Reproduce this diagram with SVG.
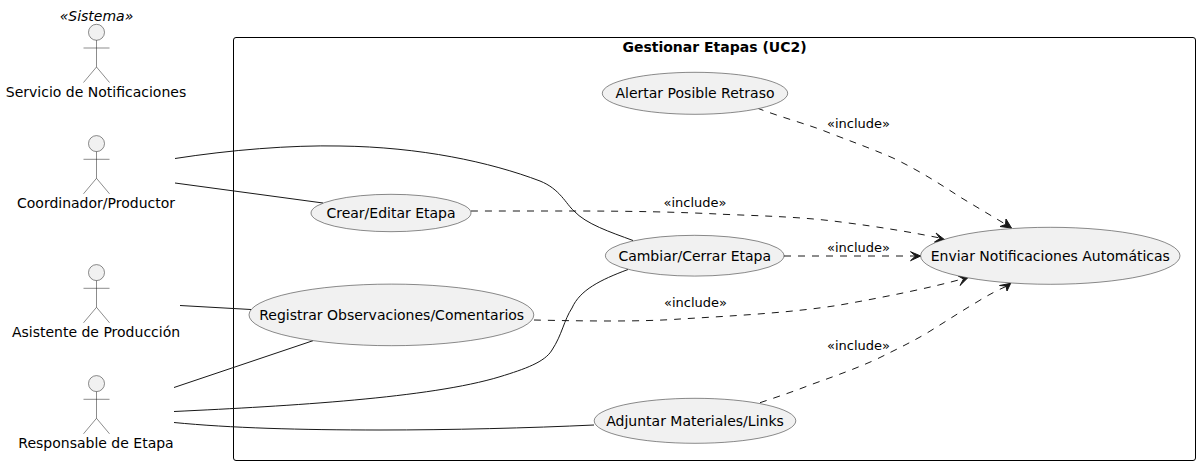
<svg xmlns="http://www.w3.org/2000/svg" width="1200" height="465" viewBox="0 0 1200 465">
<style>
text{font-family:"DejaVu Sans",sans-serif;font-size:14px;fill:#000}
.c{text-anchor:middle}
.l{font-size:13px}
.u{fill:#F1F1F1;stroke:#181818;stroke-width:.5}
.a{fill:none;stroke:#181818;stroke-width:.5}
.h{fill:#F1F1F1;stroke:#181818;stroke-width:.5}
.s{fill:none;stroke:#181818;stroke-width:1}
.d{fill:none;stroke:#181818;stroke-width:1;stroke-dasharray:7,7}
.t{fill:#181818;stroke:#181818;stroke-width:1}
</style>
<defs>
<g id="stick"><circle class="h" cx="96.500" cy="32.300" r="8"/><path class="a" d="M96.500 40.300V67M83.500 48H109.500M96.500 67L83.500 82.500M96.500 67L109.500 82.500"/></g>
</defs>
<g id="boundary"><rect x="233.500" y="37.500" width="962" height="423" rx="2.500" fill="none" stroke="#000" stroke-width="1"/><text class="c" x="714.500" y="52" font-weight="bold">Gestionar Etapas (UC2)</text></g>
<g id="connectors">
<path class="s" d="M175 158.500C230 150 290 145 340 146C420 147 490 162 540 181C560 189 566 204 574 211C586 224 610 232 633 240.500"/>
<path class="s" d="M175 183L323 203"/>
<path class="s" d="M180 305.500L251 309.500"/>
<path class="s" d="M174 387.500L313 340.700"/>
<path class="s" d="M174 411.500C290 406 430 398 500 376.700C525 369 545 362 552 350C562 335 564 320 572 308C580 290 600 280 628 269.500"/>
<path class="s" d="M174 422.500C230 428 300 430 380 430C450 430 530 428 594 425"/>
<path class="d" d="M757 108C780 117 810 125 827 132C850 141 870 148 893 158C920 171 940 184 960 197C975 206 990 215 1006 224.500"/>
<path class="d" d="M471 211C500 211 540 211 573 211C630 211 680 212 723 214.300C765 216 805 217 843 222.300C880 227 910 232 940 238"/>
<path class="d" d="M784 256H916"/>
<path class="d" d="M534 320C580 321 640 322 680 319C730 316 790 313 840 305C885 297 930 288 964 278.500"/>
<path class="d" d="M760 402.700C777 397 795 391 810 385C835 376 855 369 877 359C895 350 910 343 927 333C945 322 960 312 977 302C988 295 998 290 1007 286"/>
<path class="t" d="M1011.500 228L1000 226.500L1005.500 224.500L1006 219Z"/>
<path class="t" d="M945 240L934.500 242L940 238.500L936 233Z"/>
<path class="t" d="M920.700 256L910.500 251.700L915.500 256L910.500 260.700Z"/>
<path class="t" d="M968.300 277.300L960 285.500L963.500 279L958.300 276Z"/>
<path class="t" d="M1010.700 283.300L1007 291L1006 286L999.500 285.500Z"/>
</g>
<g id="actor-notificaciones"><use href="#stick"/><text class="c" x="96" y="97">Servicio de Notificaciones</text><text class="c" x="96.500" y="21" font-style="italic">«Sistema»</text></g>
<g id="actor-coordinador"><use href="#stick" y="111.300"/><text class="c" x="96" y="208">Coordinador/Productor</text></g>
<g id="actor-asistente"><use href="#stick" y="240.300"/><text class="c" x="96" y="337">Asistente de Producción</text></g>
<g id="actor-responsable"><use href="#stick" y="351.300"/><text class="c" x="96" y="448">Responsable de Etapa</text></g>
<g id="uc-alertar"><ellipse class="u" cx="695" cy="93.300" rx="92.700" ry="21"/><text class="c" x="695" y="98.300">Alertar Posible Retraso</text></g>
<g id="uc-crear"><ellipse class="u" cx="391" cy="213" rx="80" ry="18.700"/><text class="c" x="391" y="218">Crear/Editar Etapa</text></g>
<g id="uc-cambiar"><ellipse class="u" cx="694.700" cy="255.700" rx="89.300" ry="20.400"/><text class="c" x="694.700" y="261">Cambiar/Cerrar Etapa</text></g>
<g id="uc-registrar"><ellipse class="u" cx="391.400" cy="314.900" rx="142.400" ry="30.800"/><text class="c" x="391.700" y="320">Registrar Observaciones/Comentarios</text></g>
<g id="uc-adjuntar"><ellipse class="u" cx="695" cy="420.800" rx="100.800" ry="22.500"/><text class="c" x="695" y="426">Adjuntar Materiales/Links</text></g>
<g id="uc-enviar"><ellipse class="u" cx="1050.300" cy="255.800" rx="129.700" ry="28.500"/><text class="c" x="1050.300" y="261">Enviar Notificaciones Automáticas</text></g>
<g id="labels">
<text class="l c" x="858.500" y="127.700">«include»</text>
<text class="l c" x="695" y="206.700">«include»</text>
<text class="l c" x="858.500" y="251.700">«include»</text>
<text class="l c" x="695.500" y="306.700">«include»</text>
<text class="l c" x="858.500" y="349.700">«include»</text>
</g>
</svg>
